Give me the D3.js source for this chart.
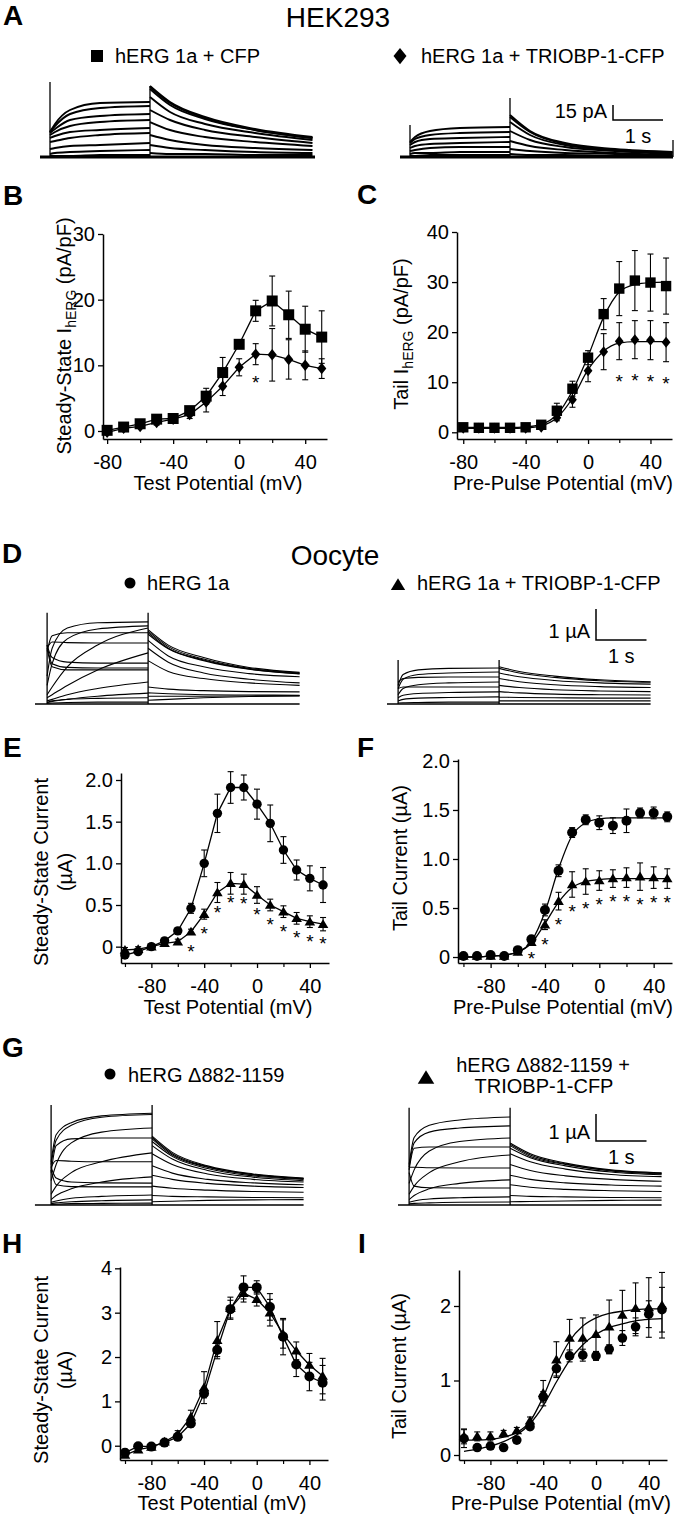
<!DOCTYPE html>
<html>
<head>
<meta charset="utf-8">
<script src="https://cdn.jsdelivr.net/npm/d3@7/dist/d3.min.js"></script>
<style>
  html, body { margin: 0; padding: 0; background: #fff; }
  svg { display: block; }
</style>
</head>
<body>
<svg id="fig" width="683" height="1519" xmlns="http://www.w3.org/2000/svg"></svg>
<script>
// ================= DATA =================
// HEK293 panels B, C (membrane potential, mV)
const vHEK = [-80, -70, -60, -50, -40, -30, -20, -10, 0, 10, 20, 30, 40, 50];
const bCFP       = [0.1, 0.6, 1.1, 1.8, 1.9, 3.1, 5.3, 8.9, 13.2, 18.3, 19.8, 17.7, 15.5, 14.3];
const bCFPErr    = [0.3, 0.3, 0.4, 0.5, 0.4, 0.6, 1.2, 2.3, 0.6, 1.6, 3.8, 3.6, 3.5, 4.0];
const bTRIOBP    = [-0.2, 0.4, 0.7, 1.3, 1.8, 2.5, 4.4, 6.8, 9.7, 11.7, 11.6, 10.9, 10.0, 9.5];
const bTRIOBPErr = [0.3, 0.3, 0.3, 0.4, 0.4, 0.6, 1.5, 1.4, 1.3, 1.6, 4.0, 3.0, 2.2, 1.5];
const sigB = [10];

const cCFP       = [1.0, 0.9, 0.9, 0.9, 1.0, 1.5, 4.3, 8.7, 14.9, 23.6, 28.7, 30.3, 29.9, 29.2];
const cCFPErr    = [0.3, 0.3, 0.3, 0.3, 0.3, 0.4, 1.5, 1.5, 1.4, 3.1, 5.4, 6.0, 5.7, 5.6];
const cTRIOBP    = [0.8, 0.8, 0.8, 0.8, 0.8, 1.0, 2.9, 6.5, 12.3, 16.1, 18.2, 18.5, 18.4, 18.0];
const cTRIOBPErr = [0.2, 0.2, 0.2, 0.2, 0.2, 0.3, 0.6, 1.5, 2.2, 3.6, 3.7, 3.8, 3.9, 3.9];
const cFitCFP    = [1.0, 1.0, 1.0, 1.0, 1.1, 1.6, 3.5, 8.3, 15.2, 23.0, 28.0, 29.5, 29.9, 30.0];
const cFitTRIOBP = [0.8, 0.8, 0.8, 0.8, 0.9, 1.3, 2.9, 6.8, 12.5, 16.2, 17.8, 18.1, 18.1, 18.1];
const sigC = [20, 30, 40, 50];

// Oocyte panels E, F, H, I (mV)
const vOoc = [-100, -90, -80, -70, -60, -50, -40, -30, -20, -10, 0, 10, 20, 30, 40, 50];
const eWT      = [-0.10, -0.06, 0.0, 0.07, 0.19, 0.46, 1.00, 1.60, 1.91, 1.91, 1.71, 1.48, 1.16, 0.92, 0.82, 0.74];
const eWTErr   = [0.04, 0.03, 0.03, 0.03, 0.03, 0.06, 0.16, 0.23, 0.19, 0.15, 0.18, 0.22, 0.16, 0.12, 0.15, 0.21];
const eTRI     = [-0.04, -0.03, 0.0, 0.04, 0.06, 0.18, 0.39, 0.65, 0.76, 0.75, 0.62, 0.50, 0.42, 0.34, 0.30, 0.27];
const eTRIErr  = [0.03, 0.03, 0.03, 0.03, 0.03, 0.03, 0.06, 0.12, 0.13, 0.12, 0.10, 0.07, 0.07, 0.07, 0.07, 0.08];
const sigE = [-50, -40, -30, -20, -10, 0, 10, 20, 30, 40, 50];

const fWT      = [0.01, 0.01, 0.02, 0.01, 0.07, 0.18, 0.48, 0.88, 1.27, 1.40, 1.37, 1.34, 1.39, 1.47, 1.47, 1.43];
const fWTErr   = [0.02, 0.02, 0.02, 0.02, 0.02, 0.03, 0.06, 0.06, 0.05, 0.05, 0.07, 0.08, 0.12, 0.05, 0.06, 0.05];
const fTRI     = [0.01, 0.01, 0.01, 0.01, 0.05, 0.15, 0.33, 0.57, 0.74, 0.77, 0.78, 0.80, 0.81, 0.82, 0.81, 0.80];
const fTRIErr  = [0.01, 0.01, 0.01, 0.01, 0.02, 0.02, 0.05, 0.09, 0.13, 0.13, 0.10, 0.09, 0.10, 0.14, 0.11, 0.10];
const fFitWT   = [0.0, 0.0, 0.01, 0.02, 0.05, 0.16, 0.46, 0.90, 1.24, 1.37, 1.41, 1.42, 1.42, 1.42, 1.42, 1.42];
const fFitTRI  = [0.0, 0.0, 0.01, 0.02, 0.05, 0.14, 0.34, 0.56, 0.71, 0.77, 0.79, 0.80, 0.80, 0.80, 0.80, 0.80];
const sigF = [-50, -40, -30, -20, -10, 0, 10, 20, 30, 40, 50];

const hDel     = [-0.16, -0.01, -0.02, 0.07, 0.20, 0.50, 1.18, 2.16, 3.08, 3.57, 3.57, 3.13, 2.46, 1.83, 1.56, 1.42];
const hDelErr  = [0.08, 0.05, 0.05, 0.05, 0.06, 0.08, 0.10, 0.15, 0.20, 0.26, 0.15, 0.30, 0.41, 0.27, 0.32, 0.39];
const hDelTRI  = [-0.21, -0.09, -0.03, 0.09, 0.26, 0.65, 1.31, 2.38, 3.10, 3.44, 3.30, 3.00, 2.52, 2.14, 1.82, 1.57];
const hDelTRIErr = [0.05, 0.05, 0.05, 0.05, 0.08, 0.15, 0.36, 0.42, 0.25, 0.20, 0.15, 0.30, 0.32, 0.20, 0.26, 0.40];

const iDel     = [0.22, 0.10, 0.12, 0.10, 0.20, 0.38, 0.78, 1.16, 1.33, 1.34, 1.33, 1.42, 1.57, 1.72, 1.89, 1.95];
const iDelErr  = [0.12, 0.04, 0.04, 0.03, 0.04, 0.04, 0.07, 0.10, 0.08, 0.08, 0.06, 0.06, 0.10, 0.12, 0.18, 0.30];
const iDelTRI  = [0.25, 0.25, 0.25, 0.29, 0.33, 0.46, 0.83, 1.28, 1.57, 1.57, 1.62, 1.72, 1.88, 1.97, 1.98, 2.01];
const iDelTRIErr = [0.10, 0.06, 0.06, 0.04, 0.04, 0.05, 0.17, 0.24, 0.25, 0.27, 0.26, 0.36, 0.33, 0.34, 0.40, 0.44];
const iFitDel    = [0.05, 0.08, 0.12, 0.18, 0.27, 0.42, 0.66, 0.98, 1.27, 1.48, 1.62, 1.71, 1.76, 1.80, 1.82, 1.83];
const iFitDelTRI = [0.20, 0.20, 0.21, 0.24, 0.30, 0.45, 0.78, 1.20, 1.53, 1.73, 1.84, 1.90, 1.93, 1.95, 1.96, 1.96];

// tick labels
const xTicksHEK = [-80, -40, 0, 40], xMinorHEK = [-60, -20, 20];
const xTicksOoc = [-80, -40, 0, 40], xMinorOoc = [-100, -60, -20, 20];
const yTicksB = [0, 10, 20, 30], yTicksC = [0, 10, 20, 30, 40];
const yTicksEF = [0, 0.5, 1.0, 1.5, 2.0], yTicksH = [0, 1, 2, 3, 4], yTicksI = [0, 1, 2];

// Current traces (sample times in s; currents: pA for A, µA for D, G)
const actT  = [0.2, 0.3, 0.6, 1.2, 2.2];
const tailT = [2.2, 2.6, 3.3, 4.2, 5.2];
const tailTA = [2.2, 2.6, 3.3, 4.3, 5.45];

const aCFPAct = [[25,33,47,54,55],[25,31,43,49,51],[24,28,37,41,43],[22,25,31,35,37],[19,21,25,27,29],[15,16,19,22,24],[8,9,11,12,14],[3,4,5,6,7],[1,1,1,2,2]];
const aCFPTail = [[71,55,40,28,20],[70,54,39,27,19],[68,52,38,27,19],[60,45,33,24,17],[47,37,27,20,14],[35,27,20,15,11],[22,17,12,9,7],[12,9,7,5,4],[4,3,3,2,2]];
const aTRIAct = [[15,20,26,29,30],[14,18,22,24,25],[12,15,18,19,20],[9,11,13,14,15],[6,7,9,10,10],[3,4,4,5,5],[1,1,2,2,2]];
const aTRITail = [[42,26,14,8,5],[40,25,13,7,5],[35,22,12,7,4],[26,17,10,6,3],[16,11,7,4,2],[8,6,4,3,1],[3,2,2,1,1]];

const dWTAct = [[0.9,1.8,2.45,2.62,2.65],[0.6,1.3,2.1,2.42,2.52],[0.3,0.55,1.2,1.9,2.45],[0.2,0.3,0.6,1.1,1.65],[0.1,0.15,0.3,0.5,0.71],[0.05,0.08,0.15,0.25,0.35],[1.7,2.2,2.3,2.3,2.3],[1.8,2.0,1.98,1.97,1.97],[1.9,1.5,1.35,1.32,1.32],[1.9,1.3,1.18,1.16,1.16],[1.8,1.2,1.1,1.1,1.1],[0.05,0.1,0.15,0.18,0.2],[0.02,0.03,0.05,0.06,0.06]];
const dWTTail = [[2.4,1.9,1.5,1.18,1.02],[2.35,1.85,1.45,1.15,1.0],[2.3,1.8,1.42,1.13,0.98],[2.25,1.78,1.4,1.12,0.97],[2.05,1.55,1.2,0.98,0.88],[1.8,1.35,1.0,0.8,0.68],[1.4,1.05,0.82,0.68,0.6],[0.55,0.48,0.43,0.4,0.39],[0.36,0.33,0.3,0.29,0.28],[0.25,0.25,0.25,0.26,0.27],[0.12,0.15,0.2,0.24,0.26]];
const dTRIAct = [[0.6,0.95,1.1,1.15,1.16],[0.5,0.8,0.95,1.0,1.03],[0.7,0.82,0.86,0.87,0.87],[0.3,0.5,0.62,0.68,0.71],[0.5,0.55,0.55,0.55,0.55],[0.2,0.28,0.34,0.37,0.39],[0.1,0.15,0.19,0.21,0.23],[0.03,0.04,0.05,0.06,0.06]];
const dTRITail = [[1.2,1.05,0.9,0.78,0.72],[1.15,1.0,0.86,0.75,0.7],[1.0,0.88,0.76,0.68,0.64],[0.82,0.72,0.62,0.56,0.53],[0.6,0.53,0.46,0.42,0.4],[0.4,0.36,0.32,0.3,0.29],[0.22,0.21,0.2,0.19,0.19],[0.1,0.1,0.1,0.1,0.1]];

const gDelAct = [[1.6,2.6,3.05,3.3,3.4],[1.5,2.4,2.95,3.25,3.35],[0.9,1.5,2.3,2.7,2.85],[1.2,2.2,2.45,2.48,2.48],[0.4,0.7,1.2,1.6,1.93],[1.4,1.65,1.62,1.6,1.6],[0.2,0.35,0.6,0.85,1.04],[1.4,1.0,0.85,0.82,0.81],[1.3,0.75,0.68,0.67,0.67],[0.1,0.15,0.25,0.32,0.37],[0.05,0.08,0.12,0.16,0.19],[0.02,0.03,0.05,0.06,0.07]];
const gDelTail = [[2.55,1.95,1.45,1.15,1.0],[2.5,1.9,1.42,1.13,0.98],[2.45,1.85,1.4,1.12,0.97],[2.35,1.8,1.35,1.08,0.95],[2.2,1.7,1.28,1.03,0.9],[1.9,1.5,1.15,0.95,0.85],[1.45,1.18,0.95,0.82,0.75],[1.1,0.95,0.8,0.7,0.65],[0.7,0.62,0.55,0.5,0.47],[0.35,0.32,0.3,0.28,0.27],[0.12,0.14,0.17,0.19,0.2]];
const gTRIAct = [[1.5,2.5,2.95,3.15,3.26],[1.4,2.3,2.7,2.85,2.93],[0.8,1.3,2.0,2.35,2.48],[1.3,2.1,2.15,2.15,2.15],[0.4,0.7,1.2,1.6,1.85],[1.4,1.4,1.38,1.37,1.37],[0.2,0.35,0.6,0.8,0.93],[1.2,0.7,0.64,0.63,0.63],[0.1,0.15,0.22,0.27,0.30],[0.04,0.06,0.08,0.1,0.11]];
const gTRITail = [[2.3,1.9,1.55,1.3,1.19],[2.25,1.85,1.52,1.28,1.17],[2.2,1.8,1.5,1.26,1.15],[2.1,1.75,1.45,1.22,1.12],[1.9,1.6,1.33,1.13,1.05],[1.5,1.28,1.08,0.95,0.88],[1.1,0.95,0.82,0.74,0.7],[0.75,0.66,0.58,0.53,0.5],[0.35,0.32,0.3,0.28,0.27],[0.12,0.13,0.15,0.17,0.18]];

// ================= DRAWING =================
const svg = d3.select("#fig");
const FONT = "'Liberation Sans', Arial, Helvetica, sans-serif";
const INK = "#000";

function label(x, y, str, o = {}) {
  return svg.append("text").attr("x", x).attr("y", y)
    .attr("font-family", FONT).attr("font-size", o.size || 20)
    .attr("font-weight", o.bold ? "bold" : "normal")
    .attr("text-anchor", o.anchor || "start").attr("fill", INK).text(str);
}
function vlabel(x, y, parts) {
  const t = svg.append("text").attr("transform", `translate(${x},${y}) rotate(-90)`)
    .attr("text-anchor", "middle").attr("font-family", FONT).attr("font-size", 20).attr("fill", INK);
  parts.forEach(p => {
    const s = t.append("tspan").text(p.t);
    if (p.sub) s.attr("font-size", 14).attr("dy", 5);
    if (p.back) s.attr("dy", -5);
  });
}

const SHAPES = {
  square: s => `M${-s},${-s}H${s}V${s}H${-s}Z`,
  diamond: s => `M0,${-s * 1.25}L${s},0L0,${s * 1.25}L${-s},0Z`,
  triangle: s => `M0,${-s * 1.05}L${s * 1.1},${s * 0.78}L${-s * 1.1},${s * 0.78}Z`,
  circle: s => `M${s},0A${s},${s} 0 1,1 ${-s},0A${s},${s} 0 1,1 ${s},0Z`
};
function marker(g, kind, size, cx, cy) {
  g.append("path").attr("d", SHAPES[kind](size)).attr("transform", `translate(${cx},${cy})`).attr("fill", INK);
}

function plot(p) {
  const g = svg.append("g");
  const x = d3.scaleLinear().domain(p.xd).range([p.left, p.right]);
  const y = d3.scaleLinear().domain(p.yd).range([p.bottom, p.top]);
  const gx = g.append("g").attr("transform", `translate(0,${p.bottom})`)
    .call(d3.axisBottom(x).tickValues(p.xMajor).tickSize(5).tickSizeOuter(0).tickFormat(d => String(d)));
  gx.attr("font-family", FONT).attr("font-size", 20);
  gx.select(".domain").attr("stroke-width", 1.5).attr("stroke", INK);
  gx.selectAll(".tick line").attr("stroke-width", 1.3).attr("stroke", INK);
  gx.selectAll(".tick text").attr("y", 30).attr("dy", null).attr("fill", INK);
  const gm = g.append("g").attr("transform", `translate(0,${p.bottom})`)
    .call(d3.axisBottom(x).tickValues(p.xMinor).tickSize(4).tickFormat(""));
  gm.select(".domain").remove();
  gm.selectAll(".tick line").attr("stroke-width", 1.2).attr("stroke", INK);
  const gy = g.append("g").attr("transform", `translate(${p.left},0)`)
    .call(d3.axisLeft(y).tickValues(p.yTicks).tickSize(5).tickSizeOuter(0).tickFormat(p.fmt || (d => String(d))));
  gy.attr("font-family", FONT).attr("font-size", 20);
  gy.select(".domain").attr("stroke-width", 1.5).attr("stroke", INK);
  gy.selectAll(".tick line").attr("stroke-width", 1.3).attr("stroke", INK);
  gy.selectAll(".tick text").attr("fill", INK).attr("x", -8);
  return { g, x, y };
}

function errBars(P, xs, ys, es) {
  const eb = P.g.append("g").attr("stroke", INK).attr("stroke-width", 1.1);
  xs.forEach((v, i) => {
    const px = P.x(v), y1 = P.y(ys[i] - es[i]), y2 = P.y(ys[i] + es[i]);
    eb.append("line").attr("x1", px).attr("x2", px).attr("y1", y1).attr("y2", y2);
    eb.append("line").attr("x1", px - 3).attr("x2", px + 3).attr("y1", y1).attr("y2", y1);
    eb.append("line").attr("x1", px - 3).attr("x2", px + 3).attr("y1", y2).attr("y2", y2);
  });
}
function curve(P, xs, ys, smooth) {
  const line = d3.line().x(d => P.x(d[0])).y(d => P.y(d[1]))
    .curve(smooth ? d3.curveMonotoneX : d3.curveLinear);
  P.g.append("path").attr("d", line(xs.map((v, i) => [v, ys[i]])))
    .attr("fill", "none").attr("stroke", INK).attr("stroke-width", 1.3);
}
function marks(P, xs, ys, kind, size) {
  const mg = P.g.append("g");
  xs.forEach((v, i) => marker(mg, kind, size, P.x(v), P.y(ys[i])));
}
function stars(P, xs, yFn) {
  xs.forEach(v => {
    P.g.append("text").attr("x", P.x(v)).attr("y", yFn(v) + 11)
      .attr("text-anchor", "middle").attr("font-family", FONT).attr("font-size", 19)
      .attr("fill", INK).text("*");
  });
}

function traces(c) {
  const g = svg.append("g").attr("fill", "none").attr("stroke", INK).attr("stroke-width", c.sw);
  const x = d3.scaleLinear().domain([0, 1]).range([c.x0, c.x0 + c.rate]);
  const y = d3.scaleLinear().domain([0, 1]).range([c.base, c.base - c.ppu]);
  const line = d3.line().x(d => x(d[0])).y(d => y(d[1])).curve(d3.curveMonotoneX);
  g.append("line").attr("x1", x(c.tLead)).attr("x2", x(c.tEnd)).attr("y1", y(0)).attr("y2", y(0)).attr("stroke-width", c.baseW);
  g.append("line").attr("x1", x(actT[0])).attr("x2", x(actT[0])).attr("y1", y(0)).attr("y2", y(c.spike)).attr("stroke-width", 1.3);
  g.append("line").attr("x1", x(c.tt[0])).attr("x2", x(c.tt[0])).attr("y1", y(0)).attr("y2", y(c.tailSpike)).attr("stroke-width", 1.3);
  if (c.endSpike) {
    g.append("line").attr("x1", x(c.tEnd)).attr("x2", x(c.tEnd)).attr("y1", y(0)).attr("y2", y(c.endSpike)).attr("stroke-width", 1.3);
  }
  c.act.forEach(v => g.append("path").attr("d", line(actT.map((t, i) => [t, v[i]]))));
  c.tail.forEach(v => g.append("path").attr("d", line(c.tt.map((t, i) => [t, v[i]]))));
  return { x, y };
}
function scaleBar(T, cx, cy, amp, secs, ampLabel) {
  const h = T.y(0) - T.y(amp), w = T.x(secs) - T.x(0);
  svg.append("path").attr("d", `M${cx},${cy - h}V${cy}H${cx + w}`)
    .attr("fill", "none").attr("stroke", INK).attr("stroke-width", 1.5);
  label(cx - 6, cy - 2, ampLabel, { anchor: "end" });
  label(cx + w / 2, cy + 23, "1 s", { anchor: "middle" });
}

// ---------- Titles / panel letters ----------
label(3, 25, "A", { size: 28, bold: true });
label(338, 27, "HEK293", { size: 28, anchor: "middle" });
label(3, 205, "B", { size: 28, bold: true });
label(357, 204, "C", { size: 28, bold: true });
label(2, 563, "D", { size: 28, bold: true });
label(335, 565, "Oocyte", { size: 28, anchor: "middle" });
label(3, 757, "E", { size: 28, bold: true });
label(357, 757, "F", { size: 28, bold: true });
label(2, 1057, "G", { size: 28, bold: true });
label(2, 1253, "H", { size: 28, bold: true });
label(358, 1253, "I", { size: 28, bold: true });

// ---------- Legends ----------
const lg = svg.append("g");
marker(lg, "square", 6, 97, 56);  label(115, 63, "hERG 1a + CFP");
marker(lg, "diamond", 6.5, 400, 56); label(421, 63, "hERG 1a + TRIOBP-1-CFP");
marker(lg, "circle", 5.5, 130, 583); label(147, 590, "hERG 1a");
marker(lg, "triangle", 6.5, 398, 585); label(417, 590, "hERG 1a + TRIOBP-1-CFP");
marker(lg, "circle", 5.5, 110, 1074); label(128, 1082, "hERG \u0394882-1159");
marker(lg, "triangle", 7.5, 426, 1078);
label(543, 1072, "hERG \u0394882-1159 +", { anchor: "middle" });
label(544, 1093, "TRIOBP-1-CFP", { anchor: "middle" });

// ---------- Panel A traces ----------
traces({ x0: 40, rate: 50, tLead: 0, tEnd: 5.5, base: 157, ppu: 1, sw: 1.9, baseW: 3, spike: 75, tailSpike: 71, tt: tailTA, act: aCFPAct, tail: aCFPTail });
const TA = traces({ x0: 400, rate: 50, tLead: 0, tEnd: 5.46, base: 157, ppu: 1, sw: 1.9, baseW: 3, spike: 32, tailSpike: 59, endSpike: 17, tt: tailTA, act: aTRIAct, tail: aTRITail });
scaleBar(TA, 613, 120, 15, 1, "15 pA");

// ---------- Panel D traces ----------
traces({ x0: 37, rate: 50.5, tLead: -0.04, tEnd: 5.2, base: 704, ppu: 31, sw: 1.1, baseW: 1.5, spike: 2.94, tailSpike: 2.94, tt: tailT, act: dWTAct, tail: dWTTail });
const TD = traces({ x0: 388, rate: 50.5, tLead: -0.02, tEnd: 5.2, base: 704, ppu: 31, sw: 1.1, baseW: 1.5, spike: 1.42, tailSpike: 1.42, tt: tailT, act: dTRIAct, tail: dTRITail });
scaleBar(TD, 596, 640, 1, 1, "1 \u00B5A");

// ---------- Panel G traces ----------
traces({ x0: 41, rate: 50.5, tLead: -0.12, tEnd: 5.2, base: 1205, ppu: 27, sw: 1.1, baseW: 1.5, spike: 3.7, tailSpike: 3.7, tt: tailT, act: gDelAct, tail: gDelTail });
const TG = traces({ x0: 399, rate: 50.5, tLead: -0.02, tEnd: 5.2, base: 1205, ppu: 27, sw: 1.1, baseW: 1.5, spike: 3.6, tailSpike: 3.6, tt: tailT, act: gTRIAct, tail: gTRITail });
scaleBar(TG, 596, 1141, 1, 1, "1 \u00B5A");

// ---------- Panel B ----------
const PB = plot({ left: 103, right: 327, top: 234, bottom: 439, xd: [-82.5, 53.2], yd: [-1.22, 30],
  xMajor: xTicksHEK, xMinor: xMinorHEK, yTicks: yTicksB });
errBars(PB, vHEK, bTRIOBP, bTRIOBPErr); errBars(PB, vHEK, bCFP, bCFPErr);
curve(PB, vHEK, bTRIOBP, false); curve(PB, vHEK, bCFP, false);
marks(PB, vHEK, bTRIOBP, "diamond", 4.6); marks(PB, vHEK, bCFP, "square", 5.5);
stars(PB, sigB, v => { const i = vHEK.indexOf(v); return PB.y(bTRIOBP[i] - bTRIOBPErr[i]) + 13; });
label(218, 490, "Test Potential (mV)", { anchor: "middle" });
vlabel(71, 336, [{ t: "Steady-State I" }, { t: "hERG", sub: true }, { t: " (pA/pF)", back: true }]);

// ---------- Panel C ----------
const PC = plot({ left: 457, right: 672, top: 232, bottom: 439, xd: [-84, 53.8], yd: [-1.34, 40],
  xMajor: xTicksHEK, xMinor: xMinorHEK, yTicks: yTicksC });
errBars(PC, vHEK, cTRIOBP, cTRIOBPErr); errBars(PC, vHEK, cCFP, cCFPErr);
curve(PC, vHEK, cFitTRIOBP, true); curve(PC, vHEK, cFitCFP, true);
marks(PC, vHEK, cTRIOBP, "diamond", 4.4); marks(PC, vHEK, cCFP, "square", 5.2);
stars(PC, sigC, v => { const i = vHEK.indexOf(v); return PC.y(cTRIOBP[i] - cTRIOBPErr[i]) + 17; });
label(563, 490, "Pre-Pulse Potential (mV)", { anchor: "middle" });
vlabel(408, 334, [{ t: "Tail I" }, { t: "hERG", sub: true }, { t: " (pA/pF)", back: true }]);

const fmt1 = d => d === 0 ? "0" : d.toFixed(1);
// ---------- Panel E ----------
const PE = plot({ left: 121, right: 329, top: 773, bottom: 963, xd: [-103, 54.5], yd: [-0.196, 2.084],
  xMajor: xTicksOoc, xMinor: xMinorOoc, yTicks: yTicksEF, fmt: fmt1 });
errBars(PE, vOoc, eTRI, eTRIErr); errBars(PE, vOoc, eWT, eWTErr);
curve(PE, vOoc, eTRI, false); curve(PE, vOoc, eWT, false);
marks(PE, vOoc, eTRI, "triangle", 4.8); marks(PE, vOoc, eWT, "circle", 4.7);
stars(PE, sigE, v => PE.y(eTRI[vOoc.indexOf(v)]) + 15);
label(228, 1014, "Test Potential (mV)", { anchor: "middle" });
vlabel(48, 872, [{ t: "Steady-State Current" }]);
vlabel(72, 872, [{ t: "(\u00B5A)" }]);

// ---------- Panel F ----------
const PF = plot({ left: 458, right: 672, top: 759, bottom: 963, xd: [-104, 53.5], yd: [-0.061, 2.02],
  xMajor: xTicksOoc, xMinor: xMinorOoc, yTicks: yTicksEF, fmt: fmt1 });
errBars(PF, vOoc, fTRI, fTRIErr); errBars(PF, vOoc, fWT, fWTErr);
curve(PF, vOoc, fFitTRI, true); curve(PF, vOoc, fFitWT, true);
marks(PF, vOoc, fTRI, "triangle", 4.8); marks(PF, vOoc, fWT, "circle", 5);
stars(PF, sigF, v => { const i = vOoc.indexOf(v); return PF.y(fTRI[i] - fTRIErr[i]) + 10; });
label(563, 1014, "Pre-Pulse Potential (mV)", { anchor: "middle" });
vlabel(407, 858, [{ t: "Tail Current (\u00B5A)" }]);

// ---------- Panel H ----------
const PH = plot({ left: 120, right: 328, top: 1267, bottom: 1460, xd: [-103.8, 54.1], yd: [-0.322, 4.03],
  xMajor: xTicksOoc, xMinor: xMinorOoc, yTicks: yTicksH });
errBars(PH, vOoc, hDelTRI, hDelTRIErr); errBars(PH, vOoc, hDel, hDelErr);
curve(PH, vOoc, hDelTRI, false); curve(PH, vOoc, hDel, false);
marks(PH, vOoc, hDelTRI, "triangle", 4.8); marks(PH, vOoc, hDel, "circle", 5);
label(222, 1510, "Test Potential (mV)", { anchor: "middle" });
vlabel(48, 1370, [{ t: "Steady-State Current" }]);
vlabel(72, 1370, [{ t: "(\u00B5A)" }]);

// ---------- Panel I ----------
const PI = plot({ left: 459, right: 667, top: 1270, bottom: 1460, xd: [-103.8, 53.8], yd: [-0.067, 2.483],
  xMajor: xTicksOoc, xMinor: xMinorOoc, yTicks: yTicksI });
errBars(PI, vOoc, iDelTRI, iDelTRIErr); errBars(PI, vOoc, iDel, iDelErr);
curve(PI, vOoc, iFitDelTRI, true); curve(PI, vOoc, iFitDel, true);
marks(PI, vOoc, iDelTRI, "triangle", 4.8); marks(PI, vOoc, iDel, "circle", 4.8);
label(561, 1510, "Pre-Pulse Potential (mV)", { anchor: "middle" });
vlabel(406, 1366, [{ t: "Tail Current (\u00B5A)" }]);
</script>
</body>
</html>
